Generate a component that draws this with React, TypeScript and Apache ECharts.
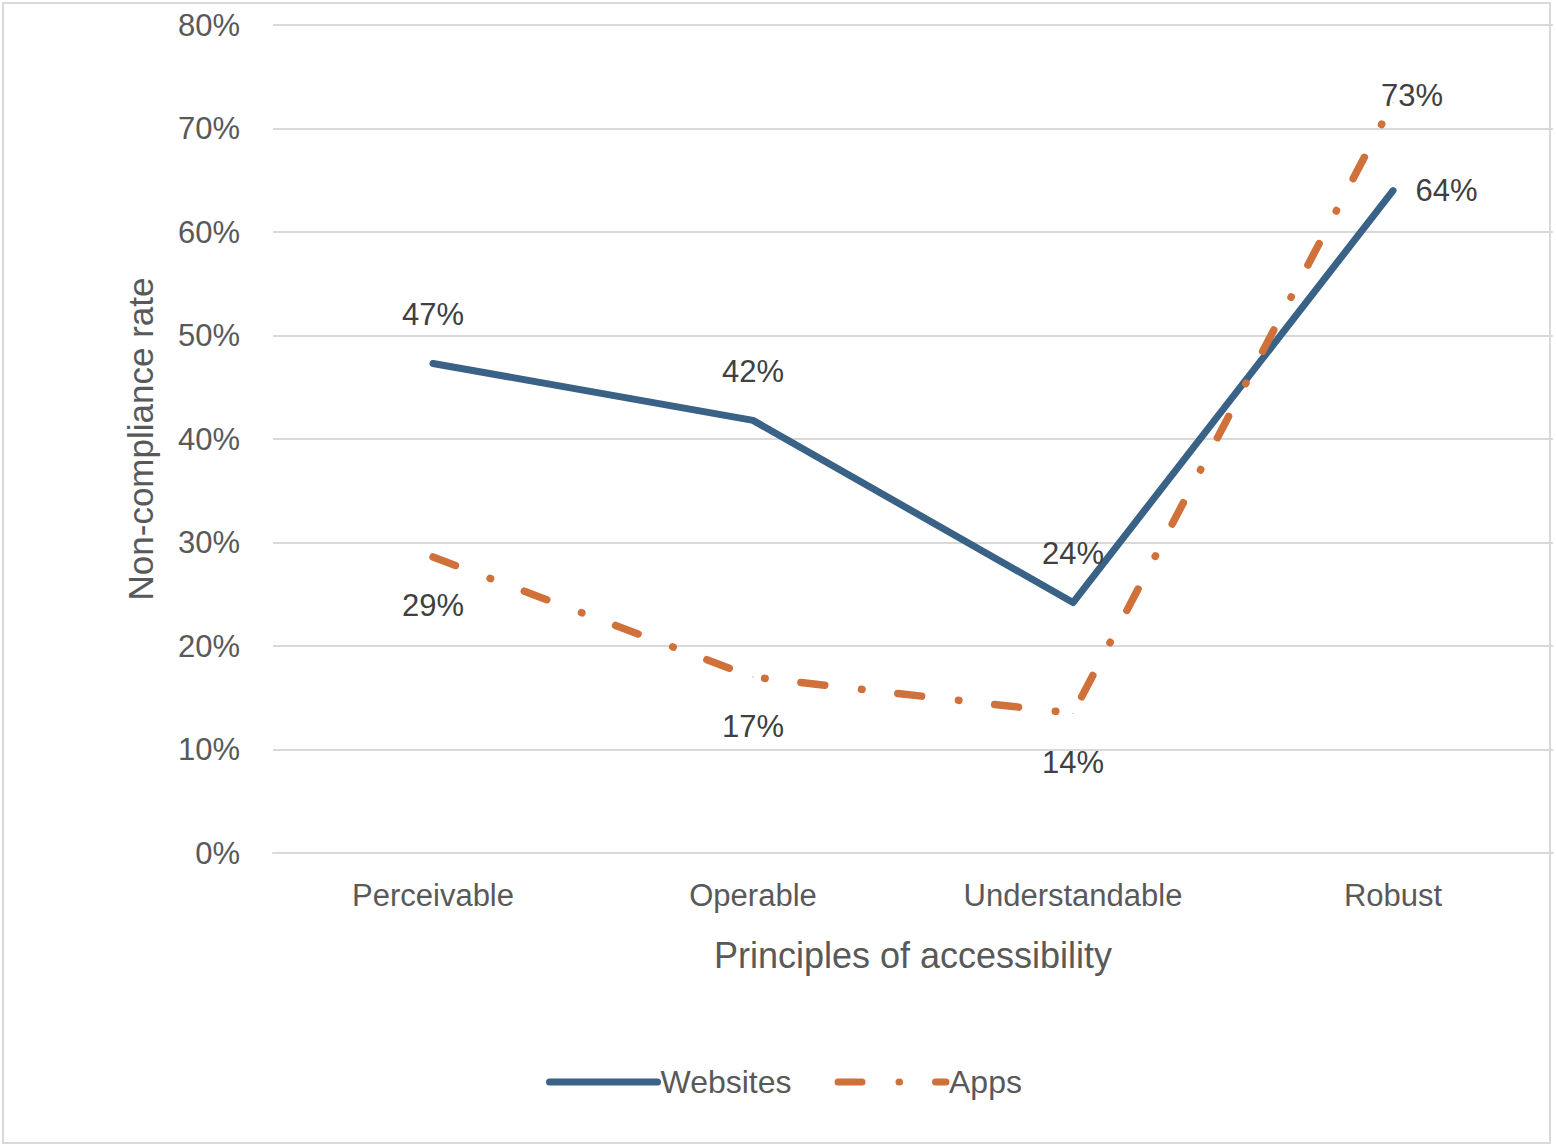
import React, { useEffect, useRef } from "react";
import * as echarts from "echarts";

const categories = ["Perceivable", "Operable", "Understandable", "Robust"];
const websites = [47.3, 41.8, 24.2, 64.0];
const apps = [28.6, 17.0, 13.5, 72.5];
const websiteLabels = ["47%", "42%", "24%", "64%"];
const appLabels = ["29%", "17%", "14%", "73%"];
const yTicks = { min: 0, max: 80, interval: 10 };

const FONT = "Liberation Sans";
const TXT = "#595959";
const LBL = "#404040";
const BLUE = "#3A6186";
const ORANGE = "#D0703A";

export default function App() {
  const ref = useRef<HTMLDivElement>(null);
  useEffect(() => {
    document.body.style.margin = "0";
    const chart = echarts.init(ref.current!, null, { renderer: "svg" });
    const webData = websites.map((v, i) => ({
      value: v,
      label:
        i === 3
          ? { position: "right", distance: 22, formatter: websiteLabels[i] }
          : { position: "top", distance: 33, formatter: websiteLabels[i] },
    }));
    const appData = apps.map((v, i) => ({
      value: v,
      label:
        i === 3
          ? { position: "top", distance: -9, offset: [19, 0], formatter: appLabels[i] }
          : { position: "bottom", distance: 33, formatter: appLabels[i] },
    }));
    chart.setOption({
      animation: false,
      textStyle: { fontFamily: FONT },
      graphic: [
        {
          type: "rect",
          shape: { x: 3, y: 3, width: 1547, height: 1140 },
          style: { fill: "none", stroke: "#d9d9d9", lineWidth: 2 },
          silent: true,
        },
      ],
      grid: { left: 273, right: 3, top: 25, bottom: 295 },
      legend: {
        bottom: 45,
        left: 541,
        itemWidth: 108,
        itemHeight: 7,
        itemGap: 43,
        itemStyle: { opacity: 0 },
        lineStyle: { width: 7, cap: "round" },
        textStyle: { fontFamily: FONT, fontSize: 32, color: TXT, padding: [0, 0, 0, -2] },
        data: ["Websites", "Apps"],
      },
      xAxis: {
        type: "category",
        data: categories,
        boundaryGap: true,
        axisLine: { lineStyle: { color: "#d9d9d9", width: 2 } },
        axisTick: { show: false },
        axisLabel: { fontFamily: FONT, fontSize: 31, color: TXT, margin: 27 },
        name: "Principles of accessibility",
        nameLocation: "middle",
        nameGap: 84,
        nameTextStyle: { fontFamily: FONT, fontSize: 36, color: TXT },
      },
      yAxis: {
        type: "value",
        min: yTicks.min,
        max: yTicks.max,
        interval: yTicks.interval,
        axisLine: { show: false },
        axisTick: { show: false },
        splitLine: { lineStyle: { color: "#d9d9d9", width: 2 } },
        axisLabel: {
          fontFamily: FONT,
          fontSize: 31,
          color: TXT,
          margin: 33,
          formatter: (v: number) => v + "%",
        },
        name: "Non-compliance rate",
        nameLocation: "middle",
        nameGap: 115,
        nameRotate: 90,
        nameTextStyle: { fontFamily: FONT, fontSize: 35, color: TXT },
      },
      series: [
        {
          name: "Websites",
          type: "line",
          data: webData,
          symbol: "circle",
          symbolSize: 1,
          showSymbol: true,
          lineStyle: { color: BLUE, width: 7, cap: "round", join: "round" },
          itemStyle: { color: BLUE },
          label: { show: true, fontFamily: FONT, fontSize: 31, color: LBL },
        },
        {
          name: "Apps",
          type: "line",
          data: appData,
          symbol: "circle",
          symbolSize: 1,
          showSymbol: true,
          lineStyle: {
            color: ORANGE,
            width: 7.5,
            type: [24, 37, 0.5, 36],
            cap: "round",
            join: "round",
          },
          itemStyle: { color: ORANGE },
          label: { show: true, fontFamily: FONT, fontSize: 31, color: LBL },
        },
      ],
    });
    return () => chart.dispose();
  }, []);
  return <div ref={ref} style={{ width: 1556, height: 1148 }} />;
}
